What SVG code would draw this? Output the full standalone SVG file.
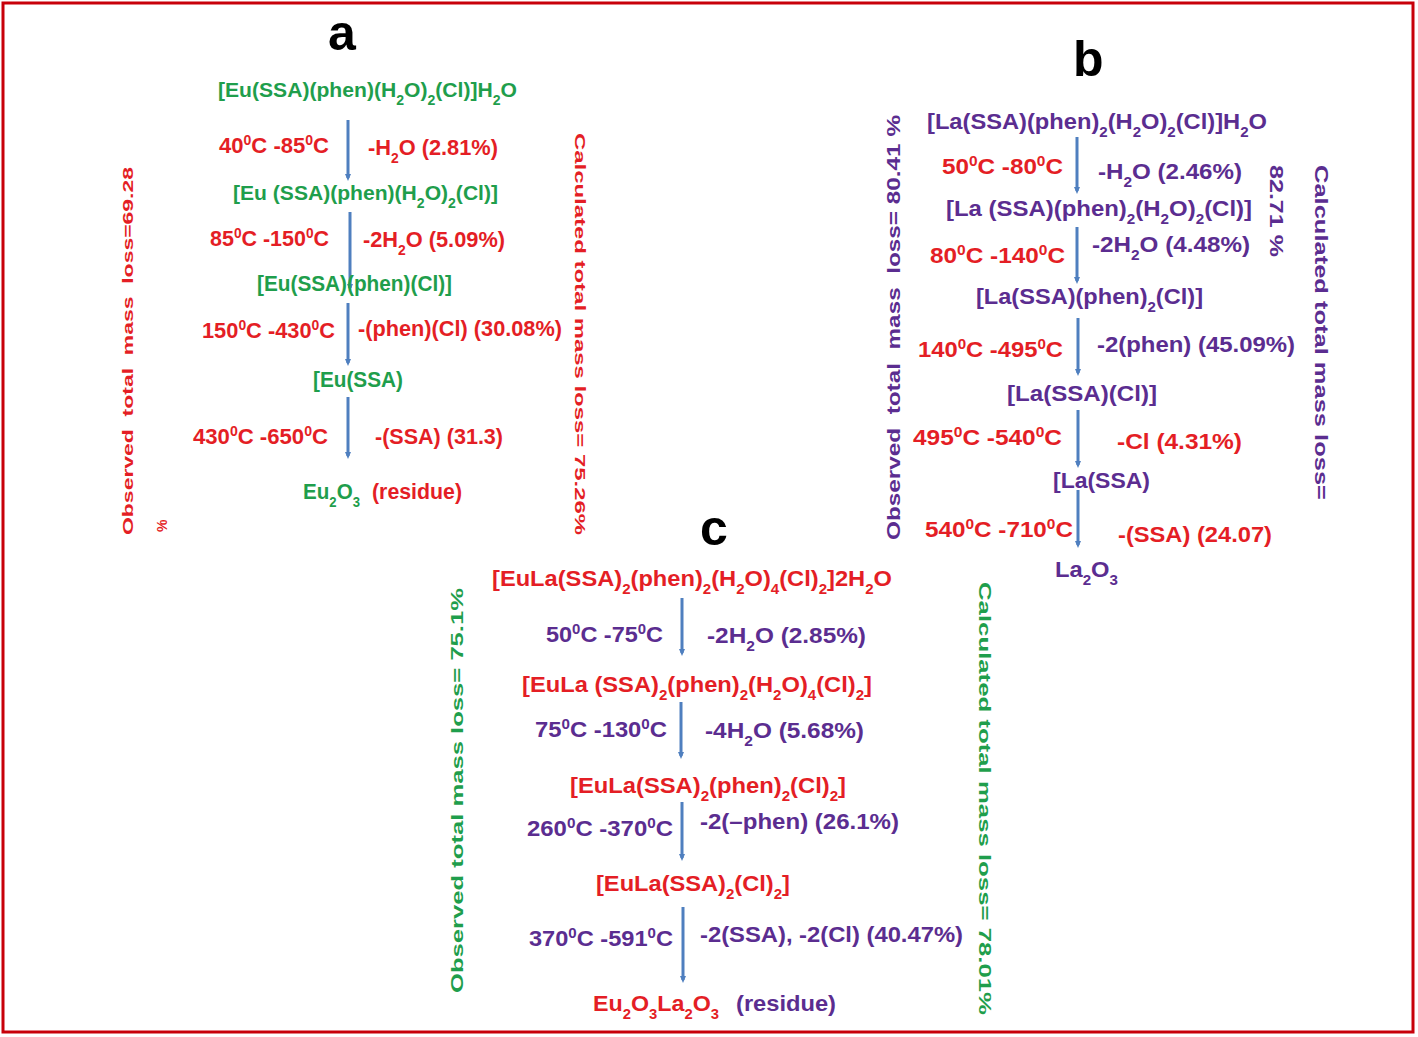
<svg xmlns="http://www.w3.org/2000/svg" width="1418" height="1037" viewBox="0 0 1418 1037">
<style>
.t{font-family:"Liberation Sans",Arial,sans-serif;font-weight:bold;font-size:22px}
.r{fill:#e41e25}.g{fill:#1f9e4c}.p{fill:#5b2d90}
.sub{font-size:14px;baseline-shift:sub}
.sup{font-size:14px;baseline-shift:super}
.v{font-size:16px}
.vb{font-size:19px}
.pre{white-space:pre}
.lbl{font-family:"Liberation Sans",Arial,sans-serif;font-weight:bold;font-size:50px;fill:#000}
.arr{stroke:#4f7fbf;stroke-width:3;fill:none;marker-end:url(#ah)}
</style>
<defs>
<marker id="ah" markerUnits="userSpaceOnUse" markerWidth="8" markerHeight="8" refX="4" refY="4" orient="auto"><path d="M0,1 L7,4 L0,7 z" fill="#4f7fbf"/></marker>
</defs>
<rect x="0" y="0" width="1418" height="1037" fill="#fff"/>
<rect x="3" y="3" width="1410" height="1029" fill="none" stroke="#c8000a" stroke-width="3"/>

<g id="connectors">
<line class="arr" x1="348" y1="120" x2="348" y2="178"/>
<line class="arr" x1="350" y1="212" x2="350" y2="288"/>
<line class="arr" x1="348" y1="303" x2="348" y2="363"/>
<line class="arr" x1="348" y1="397" x2="348" y2="456"/>
<line class="arr" x1="1077" y1="137" x2="1077" y2="191"/>
<line class="arr" x1="1077" y1="227" x2="1077" y2="281"/>
<line class="arr" x1="1078" y1="318" x2="1078" y2="373"/>
<line class="arr" x1="1078" y1="410" x2="1078" y2="465"/>
<line class="arr" x1="1078" y1="490" x2="1078" y2="545"/>
<line class="arr" x1="682" y1="598" x2="682" y2="653"/>
<line class="arr" x1="681" y1="702" x2="681" y2="756"/>
<line class="arr" x1="682" y1="802" x2="682" y2="858"/>
<line class="arr" x1="683" y1="907" x2="683" y2="980"/>
</g>

<g id="panel-a">
<text id="label-a" class="lbl" x="328" y="50">a</text>
<g id="a-n1"><text class="t g" style="font-size:21px" x="218" y="97" textLength="299" lengthAdjust="spacingAndGlyphs">[Eu(SSA)(phen)(H<tspan class="sub">2</tspan>O)<tspan class="sub">2</tspan>(Cl)]H<tspan class="sub">2</tspan>O</text></g>
<g id="a-s1">
<text class="t r" x="219" y="153" textLength="110" lengthAdjust="spacingAndGlyphs">40<tspan class="sup">0</tspan>C -85<tspan class="sup">0</tspan>C</text>
<text class="t r" x="368" y="155" textLength="130" lengthAdjust="spacingAndGlyphs">-H<tspan class="sub">2</tspan>O (2.81%)</text>
</g>
<g id="a-n2"><text class="t g" style="font-size:21px" x="233" y="200" textLength="265" lengthAdjust="spacingAndGlyphs">[Eu (SSA)(phen)(H<tspan class="sub">2</tspan>O)<tspan class="sub">2</tspan>(Cl)]</text></g>
<g id="a-s2">
<text class="t r" x="210" y="246" textLength="119" lengthAdjust="spacingAndGlyphs">85<tspan class="sup">0</tspan>C -150<tspan class="sup">0</tspan>C</text>
<text class="t r" x="363" y="247" textLength="142" lengthAdjust="spacingAndGlyphs">-2H<tspan class="sub">2</tspan>O (5.09%)</text>
</g>
<g id="a-n3"><text class="t g" x="257" y="291" textLength="195" lengthAdjust="spacingAndGlyphs">[Eu(SSA)(phen)(Cl)]</text></g>
<g id="a-s3">
<text class="t r" x="202" y="338" textLength="133" lengthAdjust="spacingAndGlyphs">150<tspan class="sup">0</tspan>C -430<tspan class="sup">0</tspan>C</text>
<text class="t r" x="358" y="336" textLength="204" lengthAdjust="spacingAndGlyphs">-(phen)(Cl) (30.08%)</text>
</g>
<g id="a-n4"><text class="t g" x="313" y="387" textLength="90" lengthAdjust="spacingAndGlyphs">[Eu(SSA)</text></g>
<g id="a-s4">
<text class="t r" x="193" y="444" textLength="135" lengthAdjust="spacingAndGlyphs">430<tspan class="sup">0</tspan>C -650<tspan class="sup">0</tspan>C</text>
<text class="t r" x="375" y="444" textLength="128" lengthAdjust="spacingAndGlyphs">-(SSA) (31.3)</text>
</g>
<g id="a-n5">
<text class="t g" x="303" y="499" textLength="57" lengthAdjust="spacingAndGlyphs">Eu<tspan class="sub">2</tspan>O<tspan class="sub">3</tspan></text>
<text class="t r" x="372" y="499" textLength="90" lengthAdjust="spacingAndGlyphs">(residue)</text>
</g>
<g id="a-obs">
<text class="t r pre" style="font-size:15px" transform="translate(133,535) rotate(-90)" textLength="368" lengthAdjust="spacingAndGlyphs">Observed  total  mass  loss=69.28</text>
<text class="t r" style="font-size:14px" transform="translate(167,532) rotate(-90)">%</text>
</g>
<g id="a-calc"><text class="t r" style="font-size:15px" transform="translate(575,133) rotate(90)" textLength="402" lengthAdjust="spacingAndGlyphs">Calculated total mass loss= 75.26%</text></g>
</g>

<g id="panel-b">
<text id="label-b" class="lbl" x="1073" y="76">b</text>
<g id="b-n1"><text class="t p" x="927" y="129" textLength="340" lengthAdjust="spacingAndGlyphs">[La(SSA)(phen)<tspan class="sub">2</tspan>(H<tspan class="sub">2</tspan>O)<tspan class="sub">2</tspan>(Cl)]H<tspan class="sub">2</tspan>O</text></g>
<g id="b-s1">
<text class="t r" x="942" y="174" textLength="121" lengthAdjust="spacingAndGlyphs">50<tspan class="sup">0</tspan>C -80<tspan class="sup">0</tspan>C</text>
<text class="t p" x="1098" y="179" textLength="144" lengthAdjust="spacingAndGlyphs">-H<tspan class="sub">2</tspan>O (2.46%)</text>
</g>
<g id="b-n2"><text class="t p" x="946" y="216" textLength="306" lengthAdjust="spacingAndGlyphs">[La (SSA)(phen)<tspan class="sub">2</tspan>(H<tspan class="sub">2</tspan>O)<tspan class="sub">2</tspan>(Cl)]</text></g>
<g id="b-s2">
<text class="t r" x="930" y="263" textLength="135" lengthAdjust="spacingAndGlyphs">80<tspan class="sup">0</tspan>C -140<tspan class="sup">0</tspan>C</text>
<text class="t p" x="1092" y="252" textLength="158" lengthAdjust="spacingAndGlyphs">-2H<tspan class="sub">2</tspan>O (4.48%)</text>
</g>
<g id="b-n3"><text class="t p" x="976" y="304" textLength="227" lengthAdjust="spacingAndGlyphs">[La(SSA)(phen)<tspan class="sub">2</tspan>(Cl)]</text></g>
<g id="b-s3">
<text class="t r" x="918" y="357" textLength="145" lengthAdjust="spacingAndGlyphs">140<tspan class="sup">0</tspan>C -495<tspan class="sup">0</tspan>C</text>
<text class="t p" x="1097" y="352" textLength="198" lengthAdjust="spacingAndGlyphs">-2(phen) (45.09%)</text>
</g>
<g id="b-n4"><text class="t p" x="1007" y="401" textLength="150" lengthAdjust="spacingAndGlyphs">[La(SSA)(Cl)]</text></g>
<g id="b-s4">
<text class="t r" x="913" y="445" textLength="149" lengthAdjust="spacingAndGlyphs">495<tspan class="sup">0</tspan>C -540<tspan class="sup">0</tspan>C</text>
<text class="t r" x="1117" y="449" textLength="125" lengthAdjust="spacingAndGlyphs">-Cl (4.31%)</text>
</g>
<g id="b-n5"><text class="t p" x="1053" y="488" textLength="97" lengthAdjust="spacingAndGlyphs">[La(SSA)</text></g>
<g id="b-s5">
<text class="t r" x="925" y="537" textLength="148" lengthAdjust="spacingAndGlyphs">540<tspan class="sup">0</tspan>C -710<tspan class="sup">0</tspan>C</text>
<text class="t r" x="1118" y="542" textLength="154" lengthAdjust="spacingAndGlyphs">-(SSA) (24.07)</text>
</g>
<g id="b-n6"><text class="t p" x="1055" y="577" textLength="63" lengthAdjust="spacingAndGlyphs">La<tspan class="sub">2</tspan>O<tspan class="sub">3</tspan></text></g>
<g id="b-obs"><text class="t p vb pre" transform="translate(900,540) rotate(-90)" textLength="425" lengthAdjust="spacingAndGlyphs">Observed  total  mass  loss= 80.41 %</text></g>
<g id="b-calc">
<text class="t p vb" transform="translate(1270,165) rotate(90)" textLength="92" lengthAdjust="spacingAndGlyphs">82.71 %</text>
<text class="t p vb" transform="translate(1315,165) rotate(90)" textLength="335" lengthAdjust="spacingAndGlyphs">Calculated total mass loss=</text>
</g>
</g>

<g id="panel-c">
<text id="label-c" class="lbl" x="700" y="545">c</text>
<g id="c-n1"><text class="t r" x="492" y="586" textLength="400" lengthAdjust="spacingAndGlyphs">[EuLa(SSA)<tspan class="sub">2</tspan>(phen)<tspan class="sub">2</tspan>(H<tspan class="sub">2</tspan>O)<tspan class="sub">4</tspan>(Cl)<tspan class="sub">2</tspan>]2H<tspan class="sub">2</tspan>O</text></g>
<g id="c-s1">
<text class="t p" x="546" y="642" textLength="117" lengthAdjust="spacingAndGlyphs">50<tspan class="sup">0</tspan>C -75<tspan class="sup">0</tspan>C</text>
<text class="t p" x="707" y="643" textLength="159" lengthAdjust="spacingAndGlyphs">-2H<tspan class="sub">2</tspan>O (2.85%)</text>
</g>
<g id="c-n2"><text class="t r" x="522" y="692" textLength="350" lengthAdjust="spacingAndGlyphs">[EuLa (SSA)<tspan class="sub">2</tspan>(phen)<tspan class="sub">2</tspan>(H<tspan class="sub">2</tspan>O)<tspan class="sub">4</tspan>(Cl)<tspan class="sub">2</tspan>]</text></g>
<g id="c-s2">
<text class="t p" x="535" y="737" textLength="132" lengthAdjust="spacingAndGlyphs">75<tspan class="sup">0</tspan>C -130<tspan class="sup">0</tspan>C</text>
<text class="t p" x="705" y="738" textLength="159" lengthAdjust="spacingAndGlyphs">-4H<tspan class="sub">2</tspan>O (5.68%)</text>
</g>
<g id="c-n3"><text class="t r" x="570" y="793" textLength="276" lengthAdjust="spacingAndGlyphs">[EuLa(SSA)<tspan class="sub">2</tspan>(phen)<tspan class="sub">2</tspan>(Cl)<tspan class="sub">2</tspan>]</text></g>
<g id="c-s3">
<text class="t p" x="527" y="836" textLength="146" lengthAdjust="spacingAndGlyphs">260<tspan class="sup">0</tspan>C -370<tspan class="sup">0</tspan>C</text>
<text class="t p" x="700" y="829" textLength="199" lengthAdjust="spacingAndGlyphs">-2(–phen) (26.1%)</text>
</g>
<g id="c-n4"><text class="t r" x="596" y="891" textLength="194" lengthAdjust="spacingAndGlyphs">[EuLa(SSA)<tspan class="sub">2</tspan>(Cl)<tspan class="sub">2</tspan>]</text></g>
<g id="c-s4">
<text class="t p" x="529" y="946" textLength="144" lengthAdjust="spacingAndGlyphs">370<tspan class="sup">0</tspan>C -591<tspan class="sup">0</tspan>C</text>
<text class="t p" x="700" y="942" textLength="263" lengthAdjust="spacingAndGlyphs">-2(SSA), -2(Cl) (40.47%)</text>
</g>
<g id="c-n5">
<text class="t r" x="593" y="1011" textLength="126" lengthAdjust="spacingAndGlyphs">Eu<tspan class="sub">2</tspan>O<tspan class="sub">3</tspan>La<tspan class="sub">2</tspan>O<tspan class="sub">3</tspan></text>
<text class="t p" x="736" y="1011" textLength="100" lengthAdjust="spacingAndGlyphs">(residue)</text>
</g>
<g id="c-obs"><text class="t g v" transform="translate(463,993) rotate(-90)" textLength="405" lengthAdjust="spacingAndGlyphs">Observed total mass loss= 75.1%</text></g>
<g id="c-calc"><text class="t g v" transform="translate(979,582) rotate(90)" textLength="433" lengthAdjust="spacingAndGlyphs">Calculated total mass loss= 78.01%</text></g>
</g>
</svg>
